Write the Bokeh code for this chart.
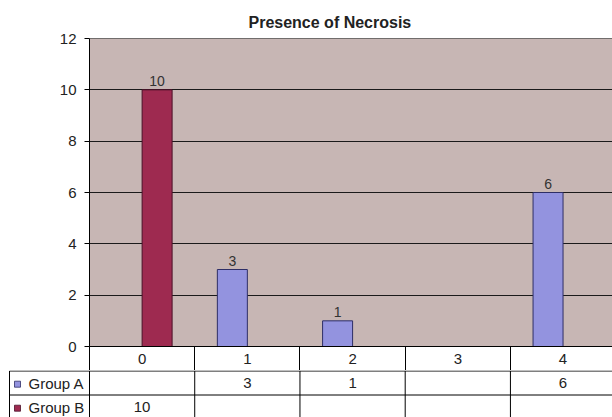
from bokeh.plotting import figure
from bokeh.layouts import column
from bokeh.models import Range1d, FixedTicker, Span, ColumnDataSource
from bokeh.core.properties import value
from bokeh.embed import file_html
from bokeh.resources import INLINE

# ---- data ----
categories = ["0", "1", "2", "3", "4"]
group_a = [None, 3, 1, None, 6]
group_b = [10, None, None, None, None]
series_names = ["Group A", "Group B"]
y_ticks = [0, 2, 4, 6, 8, 10, 12]

# ---- styles ----
FONT = "Liberation Sans"
COL_A = "#9393DF"
COL_A_LINE = "#2E2E66"
COL_B = "#9E2A50"
COL_B_LINE = "#4A1028"
BG = "#C7B6B4"
TXT = "#222222"

W = 612
LEFT = 89
TOP = 38
FRAME_BOTTOM = 346
ROW = 24
CHART_H = FRAME_BOTTOM + ROW
TABLE_H = 417 - CHART_H
X_START = -0.5
X_END = 4.47
px_per_unit = (W - LEFT) / (X_END - X_START)

xs = list(range(len(categories)))
bounds = [x - 0.5 for x in xs]
BAR_W = 0.285
OFF = BAR_W / 2

# ---- chart ----
p = figure(width=W, height=CHART_H, output_backend="svg", toolbar_location=None,
           x_range=Range1d(X_START, X_END), y_range=Range1d(0, 12),
           min_border_left=LEFT, min_border_right=0, min_border_top=TOP,
           min_border_bottom=ROW, frame_align=False,
           title="Presence of Necrosis")
p.title.align = "left"
p.title.vertical_align = "top"
p.title.offset = 159
p.title.text_font = FONT
p.title.text_font_size = "16px"
p.title.text_font_style = "bold"
p.title.text_color = TXT
p.title.standoff = 12
p.background_fill_color = BG
p.border_fill_color = "white"
p.outline_line_color = None

ax = p.yaxis[0]
ax.ticker = FixedTicker(ticks=y_ticks)
ax.axis_line_color = "black"
ax.major_tick_line_color = "black"
ax.major_tick_out = 5
ax.major_tick_in = 0
ax.minor_tick_line_color = None
ax.major_label_text_font = FONT
ax.major_label_text_font_size = "15px"
ax.major_label_text_color = TXT
ax.major_label_standoff = 8

# x axis acts as the header row of the data table
xa = p.xaxis[0]
xa.ticker = FixedTicker(ticks=xs, minor_ticks=bounds)
xa.major_label_overrides = {x: c for x, c in zip(xs, categories)}
xa.axis_line_color = "black"
xa.major_tick_line_color = None
xa.minor_tick_line_color = "black"
xa.minor_tick_out = ROW
xa.minor_tick_in = 0
xa.major_label_text_font = FONT
xa.major_label_text_font_size = "15px"
xa.major_label_text_color = TXT
xa.major_label_standoff = 7 - ROW

p.xgrid.visible = False
p.ygrid.ticker = FixedTicker(ticks=y_ticks)
p.ygrid.grid_line_color = "#1a1a1a"
p.ygrid.grid_line_width = 1
p.add_layout(Span(location=y_ticks[-1], dimension="width", line_color="black", line_width=1.2))

a_x = [x - OFF for x, v in zip(xs, group_a) if v is not None]
a_v = [v for v in group_a if v is not None]
b_x = [x + OFF for x, v in zip(xs, group_b) if v is not None]
b_v = [v for v in group_b if v is not None]
src_a = ColumnDataSource(dict(x=a_x, top=a_v, lbl=[str(v) for v in a_v]))
src_b = ColumnDataSource(dict(x=b_x, top=b_v, lbl=[str(v) for v in b_v]))

p.vbar(x="x", top="top", width=BAR_W, source=src_a, fill_color=COL_A, line_color=COL_A_LINE, line_width=1)
p.vbar(x="x", top="top", width=BAR_W, source=src_b, fill_color=COL_B, line_color=COL_B_LINE, line_width=1)
for src in (src_a, src_b):
    p.text(x="x", y="top", text="lbl", source=src, text_align="center", text_baseline="bottom",
           y_offset=-4, text_font=value(FONT), text_font_size="14px", text_color="#333333")

# ---- data table rows below ----
t_start = X_START - LEFT / px_per_unit
t = figure(width=W, height=TABLE_H, output_backend="svg", toolbar_location=None,
           x_range=Range1d(t_start, X_END),
           y_range=Range1d((TABLE_H - 0.5) / ROW, -0.5 / ROW),
           min_border=0, frame_align=False, x_axis_location=None, y_axis_location=None)
t.outline_line_color = None
t.xgrid.visible = False
t.ygrid.visible = False
t.background_fill_color = "white"
t.border_fill_color = "white"

left_edge = t_start + 9 / px_per_unit
n = len(series_names)
t.segment(x0=[left_edge] * n, y0=list(range(n)), x1=[X_END] * n, y1=list(range(n)),
          line_color="black", line_width=1)
t.segment(x0=bounds + [left_edge], y0=[0] * (len(bounds) + 1),
          x1=bounds + [left_edge], y1=[n + 1] * (len(bounds) + 1),
          line_color="black", line_width=1)

for r, (vals, name, fc, lc) in enumerate(zip([group_a, group_b], series_names,
                                            [COL_A, COL_B], [COL_A_LINE, COL_B_LINE])):
    cx = [x for x, v in zip(xs, vals) if v is not None]
    cv = [str(v) for v in vals if v is not None]
    t.text(x=cx, y=[r + 0.5] * len(cx), text=cv, text_align="center", text_baseline="middle",
           text_font=value(FONT), text_font_size="15px", text_color=TXT)
    t.scatter(x=[left_edge + 8 / px_per_unit], y=[r + 0.55], marker="square", size=6,
              fill_color=fc, line_color=lc, line_width=0.8)
    t.text(x=[left_edge + 19 / px_per_unit], y=[r + 0.5], text=[name], text_align="left",
           text_baseline="middle", text_font=value(FONT), text_font_size="15px", text_color=TXT)

layout = column(p, t, spacing=0)
open("out.html", "w").write(file_html(layout, INLINE))
